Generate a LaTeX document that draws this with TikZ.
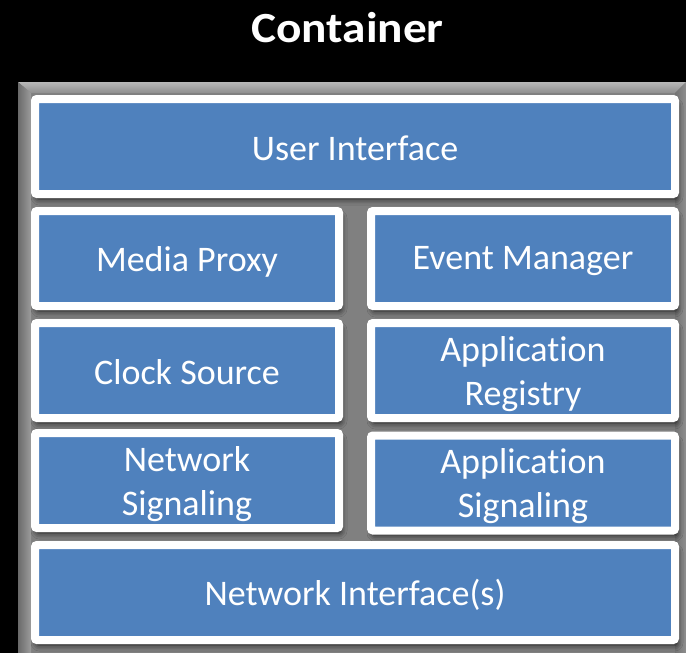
\documentclass[tikz,border=0pt]{standalone}
\usepackage{fontspec}
\setmainfont[Ligatures=NoCommon]{Carlito}
\usetikzlibrary{shadows.blur}
\definecolor{boxblue}{HTML}{4F81BD}
\definecolor{framegray}{HTML}{808080}
\definecolor{bevellight}{HTML}{B8B8B8}
\definecolor{bevelmid}{HTML}{8E8E8E}
\definecolor{beveldark}{HTML}{6A6A6A}
\begin{document}
\begin{tikzpicture}[x=1pt,y=-1pt,
  box/.style={draw=white, line width=8pt, fill=boxblue, rounded corners=2pt,
    inner sep=0pt, minimum height=95pt,
    blur shadow={shadow xshift=2pt, shadow yshift=-5pt, shadow blur radius=6pt, shadow opacity=80}},
  widebox/.style={box, minimum width=640pt},
  halfbox/.style={box, minimum width=304pt},
  boxtext/.style={text=white, font=\fontsize{36}{44}\selectfont, align=center, inner sep=0pt},
  titletext/.style={text=white, font=\fontsize{43}{50}\selectfont\bfseries, inner sep=0pt}]
\useasboundingbox (0,0) rectangle (686,653);
\fill[black] (0,0) rectangle (686,653);
\begin{scope}
\clip (0,0) rectangle (686,653);
% frame
\fill[framegray] (18,82) rectangle (700,700);
\shade[top color=bevellight, bottom color=bevelmid] (18,82) -- (686,82) -- (675,93) -- (31,93) -- cycle;
\shade[left color=beveldark, right color=bevellight!85!black] (18,82) -- (31,93) -- (31,700) -- (18,700) -- cycle;
\shade[left color=framegray!90!black, right color=bevelmid] (686,82) -- (686,700) -- (675,700) -- (675,93) -- cycle;
\end{scope}
% title
\node[titletext, anchor=base, xscale=1.1, transform shape] (title) at (347.5,42) {Container};
% boxes
\node[widebox] (ui) at (355,146.5) {};
\node[halfbox] (mp) at (187,258.5) {};
\node[halfbox] (em) at (523,258.5) {};
\node[halfbox] (cs) at (187,370.5) {};
\node[halfbox] (ar) at (523,370.5) {};
\node[halfbox] (ns) at (187,480.5) {};
\node[halfbox] (as) at (523,483) {};
\node[widebox] (ni) at (355,592.5) {};
% texts
\node[boxtext] (uit) at ([yshift=-2pt]ui.center) {User Interface};
\node[boxtext] (mpt) at ([yshift=-3pt]mp.center) {Media Proxy};
\node[boxtext] (emt) at ([yshift=-3pt]em.center) {Event Manager};
\node[boxtext] (cst) at ([yshift=-2pt]cs.center) {Clock Source};
\node[boxtext] (art) at ([yshift=-3.5pt]ar.center) {Application\\Registry};
\node[boxtext] (nst) at ([yshift=-4pt]ns.center) {Network\\Signaling};
\node[boxtext] (ast) at ([yshift=-3.5pt]as.center) {Application\\Signaling};
\node[boxtext] (nit) at ([yshift=-2pt]ni.center) {Network Interface(s)};
\end{tikzpicture}
\end{document}
